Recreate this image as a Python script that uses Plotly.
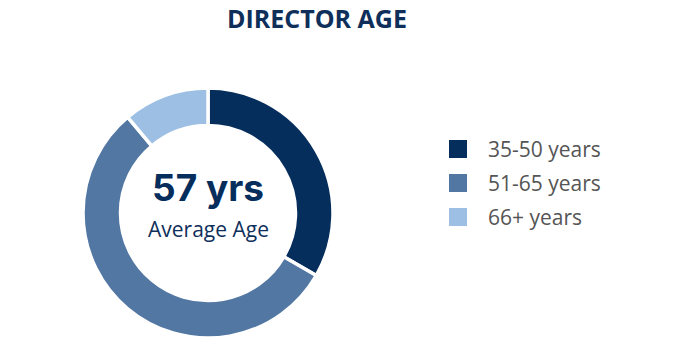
import plotly.graph_objects as go

labels = ["35-50 years", "51-65 years", "66+ years"]
counts = [3, 5, 1]
colors = ["#062e5c", "#5177a2", "#9cbfe3"]
title_text = "DIRECTOR AGE"
center_main = "57 yrs"
center_sub = "Average Age"

W, H = 690, 360
cx, cy, r = 208, 213, 125

fig = go.Figure()
fig.add_trace(go.Pie(
    labels=labels, values=counts, hole=0.70, sort=False,
    direction="clockwise", rotation=0,
    marker=dict(colors=colors, line=dict(color="white", width=3.5)),
    textinfo="none", hoverinfo="label+value", showlegend=False,
    domain=dict(x=[(cx - r) / W, (cx + r) / W], y=[(H - cy - r) / H, (H - cy + r) / H]),
))

fig.add_annotation(text=title_text, x=317 / W, y=1.0, xref="paper", yref="paper",
                   showarrow=False, xanchor="center", yanchor="top", borderpad=0,
                   font=dict(family="Open Sans", size=25, color="#0f2f5b", weight="bold"))
fig.add_annotation(text=center_main, x=cx / W, y=1 - 187 / H, xref="paper", yref="paper",
                   showarrow=False, xanchor="center", yanchor="middle",
                   font=dict(family="Inter", size=37, color="#062e5c", weight="bold"))
fig.add_annotation(text=center_sub, x=cx / W, y=1 - 229 / H, xref="paper", yref="paper",
                   showarrow=False, xanchor="center", yanchor="middle",
                   font=dict(family="Open Sans", size=21, color="#0f2f5b"))

# Custom legend built from labels/colors
leg_x0, leg_y0, leg_dy, sq = 449, 149, 34, 18
for i, (lab, col) in enumerate(zip(labels, colors)):
    yc = leg_y0 + i * leg_dy
    fig.add_shape(type="rect", xref="paper", yref="paper",
                  x0=leg_x0 / W, x1=(leg_x0 + sq) / W,
                  y0=1 - (yc + sq / 2) / H, y1=1 - (yc - sq / 2) / H,
                  fillcolor=col, line=dict(width=0))
    fig.add_annotation(text=lab, x=486 / W, y=1 - yc / H, xref="paper", yref="paper",
                       showarrow=False, xanchor="left", yanchor="middle",
                       font=dict(family="Open Sans", size=21, color="#555555"))

fig.update_layout(
    width=W, height=H, margin=dict(l=0, r=0, t=0, b=0),
    paper_bgcolor="white", plot_bgcolor="white",
    showlegend=False,
)

fig.write_html("out.html")
